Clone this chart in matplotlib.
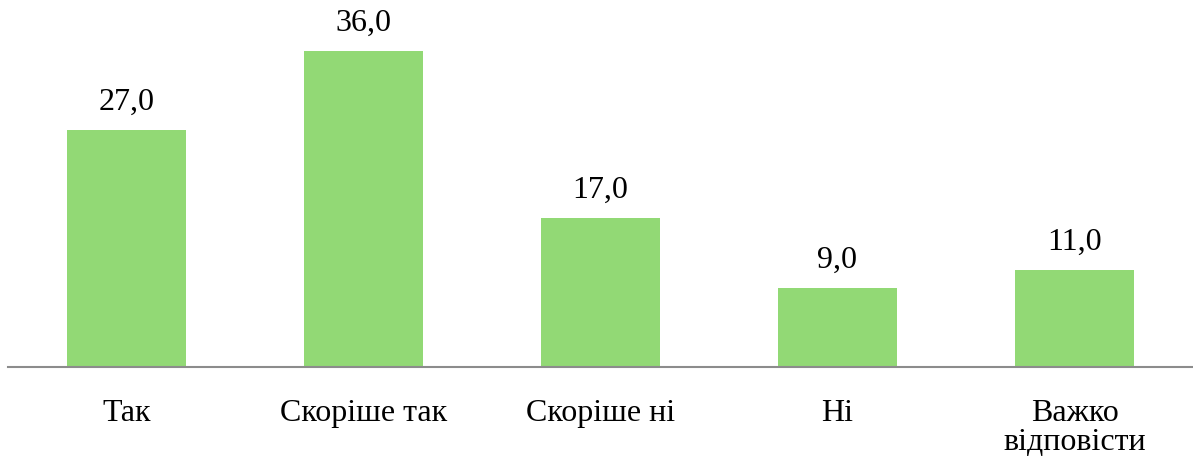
import matplotlib.pyplot as plt

categories = ['Так', 'Скоріше так', 'Скоріше ні', 'Ні', 'Важко\nвідповісти']
values = [27.0, 36.0, 17.0, 9.0, 11.0]

plt.rcParams['font.family'] = ['Liberation Serif', 'DejaVu Serif']

fig = plt.figure(figsize=(11.93, 4.57), dpi=100)
ax = fig.add_axes([8 / 1193, 90 / 457, 1185 / 1193, 351 / 457])

x = range(len(categories))
bars = ax.bar(x, values, width=0.5, color='#92D975')
for b, v in zip(bars, values):
    ax.text(b.get_x() + b.get_width() / 2, v + 1.5, f"{v:.1f}".replace('.', ','),
            ha='center', va='bottom', fontsize=23)

ax.set_xlim(-0.5, 4.5)
ax.set_ylim(0, 40)
ax.set_xticks(list(x))
ax.set_xticklabels(categories, fontsize=23, linespacing=1.0, va='top')
ax.tick_params(axis='x', length=0, pad=23)
ax.set_yticks([])
for s in ['top', 'right', 'left']:
    ax.spines[s].set_visible(False)
ax.spines['bottom'].set_color('#8C8C8C')
ax.spines['bottom'].set_linewidth(1.5)

fig.savefig('out.png', dpi=100)
